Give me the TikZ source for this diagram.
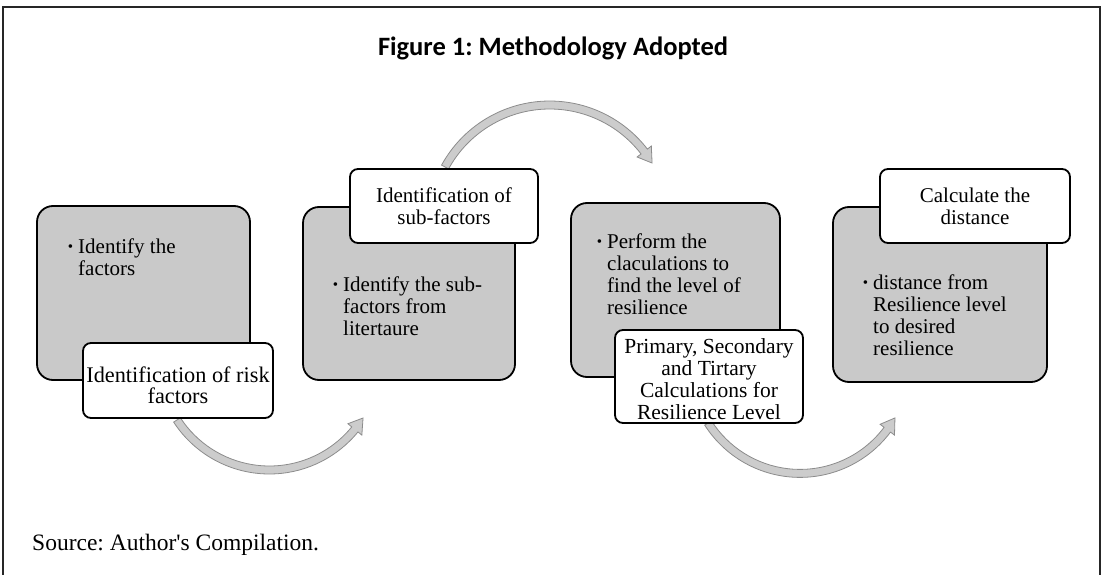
\documentclass[tikz,border=0pt]{standalone}
\usepackage{fontspec}
\setmainfont{Liberation Serif}
\newfontfamily\titlefont{Carlito}
\newfontfamily\srcfont{Liberation Serif}[Ligatures=TeXOff]
\usetikzlibrary{calc}
\frenchspacing
\begin{document}
\begin{tikzpicture}[x=1pt,y=1pt,
  graybox/.style={fill=black!21,draw=black,line width=1.8pt,rounded corners=16pt},
  whitebox/.style={fill=white,draw=black,line width=1.8pt,rounded corners=8pt},
  boxtext/.style={inner sep=0pt,font=\fontsize{21}{22}\selectfont},
  curvearrow/.style={fill=black!20,draw=black!45,line width=0.8pt},
  frameline/.style={draw=black!85,line width=2.5pt}]
\useasboundingbox (0,0) rectangle (1102,-575);
\newcommand{\mybul}{\llap{\raisebox{1.5pt}{\fontsize{15}{15}\selectfont\textbullet}\hspace{5pt}}}
% frame
\draw[frameline] (3,-575) -- (3,-7) -- (1100,-7) -- (1100,-575);
% title
\node[inner sep=0pt,font=\titlefont\bfseries\fontsize{26.5}{30}\selectfont] (title) at (553,-48) {Figure 1: Methodology Adopted};
% arc centres
\coordinate (c1) at (269.4,-359.7);
\coordinate (c2) at (549.7,-224.3);
\coordinate (c3) at (800,-364.4);
% arrow 1
\filldraw[curvearrow] ($(c1)+(213.1:114.3pt)$) arc[start angle=213.1,end angle=320.8,radius=114.3pt]
  -- ($(c1)+(320.8:119.3pt)$) -- ($(c1)+(328.1:110.3pt)$) -- ($(c1)+(320.8:101.3pt)$)
  -- ($(c1)+(320.8:106.3pt)$) arc[start angle=320.8,end angle=213.1,radius=106.3pt] -- cycle;
% arrow 2
\filldraw[curvearrow] ($(c2)+(151.3:123.3pt)$) arc[start angle=151.3,end angle=37.6,radius=123.3pt]
  -- ($(c2)+(37.6:128.3pt)$) -- ($(c2)+(30.9:119.3pt)$) -- ($(c2)+(37.6:110.3pt)$)
  -- ($(c2)+(37.6:115.3pt)$) arc[start angle=37.6,end angle=151.3,radius=115.3pt] -- cycle;
% arrow 3
\filldraw[curvearrow] ($(c3)+(212.5:113pt)$) arc[start angle=212.5,end angle=323.2,radius=113pt]
  -- ($(c3)+(323.2:118pt)$) -- ($(c3)+(330.6:109pt)$) -- ($(c3)+(323.2:100pt)$)
  -- ($(c3)+(323.2:105pt)$) arc[start angle=323.2,end angle=212.5,radius=105pt] -- cycle;
% step 1
\path[graybox] (37,-206) rectangle (250,-380);
\node[boxtext,anchor=west,align=left] (t1) at (78,-257) {\mybul Identify the\\factors};
\path[whitebox] (83,-343) rectangle (273,-418);
\node[boxtext,align=center,font=\fontsize{22.3}{21}\selectfont] (w1) at (178,-385) {Identification of risk\\factors};
% step 2
\path[graybox] (303,-207) rectangle (515,-380);
\node[boxtext,anchor=west,align=left] (t2) at (343,-306) {\mybul Identify the sub-\\factors from\\litertaure};
\path[whitebox] (350,-169) rectangle (538,-243);
\node[boxtext,align=center] (w2) at (444,-206.5) {Identification of\\sub-factors};
% step 3
\path[graybox] (571,-203) rectangle (780,-377);
\node[boxtext,anchor=west,align=left] (t3) at (607,-274) {\mybul Perform the\\claculations to\\find the level of\\resilience};
\path[whitebox] (615,-330) rectangle (803,-423);
\node[boxtext,align=center,font=\fontsize{21.5}{22}\selectfont] (w3) at (709,-379) {Primary, Secondary\\and Tirtary\\Calculations for\\Resilience Level};
% step 4
\path[graybox] (833,-207) rectangle (1047,-382);
\node[boxtext,anchor=west,align=left] (t4) at (873,-315) {\mybul distance from\\Resilience level\\to desired\\resilience};
\path[whitebox] (880,-169) rectangle (1070,-243);
\node[boxtext,align=center] (w4) at (975,-206.5) {Calculate the\\distance};
% source
\node[inner sep=0pt,anchor=west,font=\srcfont\fontsize{23.5}{26}\selectfont] (src) at (32,-545) {Source: Author's Compilation.};
\end{tikzpicture}
\end{document}
